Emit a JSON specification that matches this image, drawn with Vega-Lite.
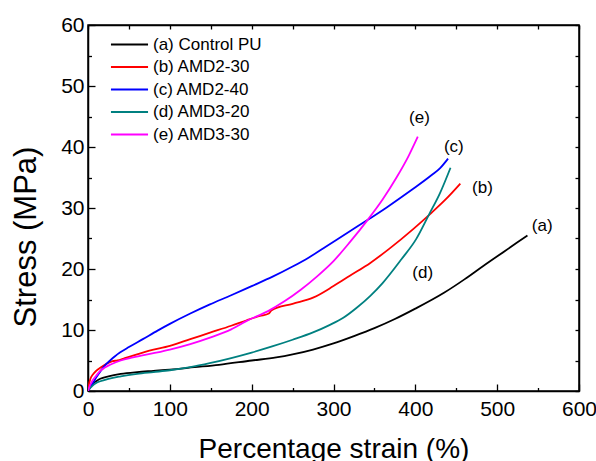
{
  "$schema": "https://vega.github.io/schema/vega-lite/v6.json",
  "width": 491,
  "height": 366,
  "autosize": {"type": "none"},
  "padding": {"left": 88, "top": 25, "right": 17, "bottom": 70},
  "config": {
    "font": "Liberation Sans",
    "view": {"stroke": "black", "strokeWidth": 1.5},
    "axis": {
      "labelFont": "Liberation Sans",
      "labelFontSize": 21,
      "labelColor": "black",
      "titleFont": "Liberation Sans",
      "titleFontWeight": "normal",
      "titleColor": "black",
      "domainColor": "black",
      "domainWidth": 1.5,
      "tickColor": "black",
      "tickWidth": 1.3,
      "grid": false
    },
    "text": {"font": "Liberation Sans"}
  },
  "datasets": {
    "curves": [
      {"sample": "(a) Control PU", "strain": 0, "stress": 0},
      {"sample": "(a) Control PU", "strain": 2, "stress": 0.6},
      {"sample": "(a) Control PU", "strain": 5, "stress": 1.1},
      {"sample": "(a) Control PU", "strain": 10, "stress": 1.6},
      {"sample": "(a) Control PU", "strain": 15, "stress": 2.0},
      {"sample": "(a) Control PU", "strain": 25, "stress": 2.4},
      {"sample": "(a) Control PU", "strain": 40, "stress": 2.8},
      {"sample": "(a) Control PU", "strain": 60, "stress": 3.1},
      {"sample": "(a) Control PU", "strain": 80, "stress": 3.3},
      {"sample": "(a) Control PU", "strain": 100, "stress": 3.5},
      {"sample": "(a) Control PU", "strain": 130, "stress": 3.9},
      {"sample": "(a) Control PU", "strain": 160, "stress": 4.3},
      {"sample": "(a) Control PU", "strain": 200, "stress": 5.0},
      {"sample": "(a) Control PU", "strain": 230, "stress": 5.5},
      {"sample": "(a) Control PU", "strain": 250, "stress": 6.0},
      {"sample": "(a) Control PU", "strain": 275, "stress": 6.8},
      {"sample": "(a) Control PU", "strain": 300, "stress": 7.8},
      {"sample": "(a) Control PU", "strain": 325, "stress": 9.0},
      {"sample": "(a) Control PU", "strain": 350, "stress": 10.3},
      {"sample": "(a) Control PU", "strain": 375, "stress": 11.8},
      {"sample": "(a) Control PU", "strain": 400, "stress": 13.5},
      {"sample": "(a) Control PU", "strain": 435, "stress": 16.1},
      {"sample": "(a) Control PU", "strain": 460, "stress": 18.3},
      {"sample": "(a) Control PU", "strain": 483, "stress": 20.5},
      {"sample": "(a) Control PU", "strain": 510, "stress": 23.0},
      {"sample": "(a) Control PU", "strain": 537, "stress": 25.5},

      {"sample": "(b) AMD2-30", "strain": 0, "stress": 0},
      {"sample": "(b) AMD2-30", "strain": 1, "stress": 1.0},
      {"sample": "(b) AMD2-30", "strain": 3, "stress": 2.0},
      {"sample": "(b) AMD2-30", "strain": 6, "stress": 2.7},
      {"sample": "(b) AMD2-30", "strain": 10, "stress": 3.3},
      {"sample": "(b) AMD2-30", "strain": 15, "stress": 3.8},
      {"sample": "(b) AMD2-30", "strain": 22, "stress": 4.4},
      {"sample": "(b) AMD2-30", "strain": 30, "stress": 4.9},
      {"sample": "(b) AMD2-30", "strain": 36, "stress": 5.0},
      {"sample": "(b) AMD2-30", "strain": 45, "stress": 5.4},
      {"sample": "(b) AMD2-30", "strain": 60, "stress": 6.0},
      {"sample": "(b) AMD2-30", "strain": 75, "stress": 6.6},
      {"sample": "(b) AMD2-30", "strain": 100, "stress": 7.4},
      {"sample": "(b) AMD2-30", "strain": 125, "stress": 8.5},
      {"sample": "(b) AMD2-30", "strain": 150, "stress": 9.6},
      {"sample": "(b) AMD2-30", "strain": 175, "stress": 10.7},
      {"sample": "(b) AMD2-30", "strain": 194, "stress": 11.6},
      {"sample": "(b) AMD2-30", "strain": 210, "stress": 12.3},
      {"sample": "(b) AMD2-30", "strain": 221, "stress": 12.7},
      {"sample": "(b) AMD2-30", "strain": 224, "stress": 13.2},
      {"sample": "(b) AMD2-30", "strain": 250, "stress": 14.3},
      {"sample": "(b) AMD2-30", "strain": 275, "stress": 15.3},
      {"sample": "(b) AMD2-30", "strain": 300, "stress": 17.2},
      {"sample": "(b) AMD2-30", "strain": 320, "stress": 18.9},
      {"sample": "(b) AMD2-30", "strain": 345, "stress": 21.0},
      {"sample": "(b) AMD2-30", "strain": 368, "stress": 23.3},
      {"sample": "(b) AMD2-30", "strain": 397, "stress": 26.5},
      {"sample": "(b) AMD2-30", "strain": 418, "stress": 29.0},
      {"sample": "(b) AMD2-30", "strain": 437, "stress": 31.4},
      {"sample": "(b) AMD2-30", "strain": 455, "stress": 34.0},

      {"sample": "(c) AMD2-40", "strain": 0, "stress": 0},
      {"sample": "(c) AMD2-40", "strain": 3, "stress": 0.6},
      {"sample": "(c) AMD2-40", "strain": 6, "stress": 1.3},
      {"sample": "(c) AMD2-40", "strain": 10, "stress": 2.2},
      {"sample": "(c) AMD2-40", "strain": 14, "stress": 3.0},
      {"sample": "(c) AMD2-40", "strain": 20, "stress": 4.1},
      {"sample": "(c) AMD2-40", "strain": 27, "stress": 5.0},
      {"sample": "(c) AMD2-40", "strain": 33, "stress": 5.7},
      {"sample": "(c) AMD2-40", "strain": 39, "stress": 6.3},
      {"sample": "(c) AMD2-40", "strain": 50, "stress": 7.2},
      {"sample": "(c) AMD2-40", "strain": 67, "stress": 8.5},
      {"sample": "(c) AMD2-40", "strain": 85, "stress": 9.9},
      {"sample": "(c) AMD2-40", "strain": 100, "stress": 11.0},
      {"sample": "(c) AMD2-40", "strain": 125, "stress": 12.7},
      {"sample": "(c) AMD2-40", "strain": 149, "stress": 14.2},
      {"sample": "(c) AMD2-40", "strain": 175, "stress": 15.7},
      {"sample": "(c) AMD2-40", "strain": 200, "stress": 17.2},
      {"sample": "(c) AMD2-40", "strain": 225, "stress": 18.7},
      {"sample": "(c) AMD2-40", "strain": 250, "stress": 20.4},
      {"sample": "(c) AMD2-40", "strain": 270, "stress": 21.9},
      {"sample": "(c) AMD2-40", "strain": 291, "stress": 23.7},
      {"sample": "(c) AMD2-40", "strain": 320, "stress": 26.2},
      {"sample": "(c) AMD2-40", "strain": 340, "stress": 27.9},
      {"sample": "(c) AMD2-40", "strain": 365, "stress": 30.1},
      {"sample": "(c) AMD2-40", "strain": 397, "stress": 33.1},
      {"sample": "(c) AMD2-40", "strain": 420, "stress": 35.4},
      {"sample": "(c) AMD2-40", "strain": 430, "stress": 36.5},
      {"sample": "(c) AMD2-40", "strain": 440, "stress": 38.1},

      {"sample": "(d) AMD3-20", "strain": 0, "stress": 0},
      {"sample": "(d) AMD3-20", "strain": 2, "stress": 0.4},
      {"sample": "(d) AMD3-20", "strain": 5, "stress": 0.8},
      {"sample": "(d) AMD3-20", "strain": 10, "stress": 1.3},
      {"sample": "(d) AMD3-20", "strain": 15, "stress": 1.6},
      {"sample": "(d) AMD3-20", "strain": 25, "stress": 2.0},
      {"sample": "(d) AMD3-20", "strain": 40, "stress": 2.4},
      {"sample": "(d) AMD3-20", "strain": 60, "stress": 2.8},
      {"sample": "(d) AMD3-20", "strain": 80, "stress": 3.1},
      {"sample": "(d) AMD3-20", "strain": 100, "stress": 3.4},
      {"sample": "(d) AMD3-20", "strain": 125, "stress": 3.9},
      {"sample": "(d) AMD3-20", "strain": 150, "stress": 4.6},
      {"sample": "(d) AMD3-20", "strain": 175, "stress": 5.4},
      {"sample": "(d) AMD3-20", "strain": 200, "stress": 6.3},
      {"sample": "(d) AMD3-20", "strain": 225, "stress": 7.3},
      {"sample": "(d) AMD3-20", "strain": 250, "stress": 8.4},
      {"sample": "(d) AMD3-20", "strain": 275, "stress": 9.6},
      {"sample": "(d) AMD3-20", "strain": 295, "stress": 10.8},
      {"sample": "(d) AMD3-20", "strain": 312, "stress": 12.0},
      {"sample": "(d) AMD3-20", "strain": 328, "stress": 13.6},
      {"sample": "(d) AMD3-20", "strain": 345, "stress": 15.6},
      {"sample": "(d) AMD3-20", "strain": 360, "stress": 17.7},
      {"sample": "(d) AMD3-20", "strain": 383, "stress": 21.6},
      {"sample": "(d) AMD3-20", "strain": 401, "stress": 24.9},
      {"sample": "(d) AMD3-20", "strain": 417, "stress": 29.0},
      {"sample": "(d) AMD3-20", "strain": 430, "stress": 32.4},
      {"sample": "(d) AMD3-20", "strain": 443, "stress": 36.6},

      {"sample": "(e) AMD3-30", "strain": 0, "stress": 0},
      {"sample": "(e) AMD3-30", "strain": 2, "stress": 0.8},
      {"sample": "(e) AMD3-30", "strain": 5, "stress": 1.6},
      {"sample": "(e) AMD3-30", "strain": 10, "stress": 2.5},
      {"sample": "(e) AMD3-30", "strain": 15, "stress": 3.3},
      {"sample": "(e) AMD3-30", "strain": 20, "stress": 3.8},
      {"sample": "(e) AMD3-30", "strain": 27, "stress": 4.3},
      {"sample": "(e) AMD3-30", "strain": 40, "stress": 5.0},
      {"sample": "(e) AMD3-30", "strain": 55, "stress": 5.5},
      {"sample": "(e) AMD3-30", "strain": 80, "stress": 6.2},
      {"sample": "(e) AMD3-30", "strain": 100, "stress": 6.8},
      {"sample": "(e) AMD3-30", "strain": 125, "stress": 7.7},
      {"sample": "(e) AMD3-30", "strain": 150, "stress": 8.8},
      {"sample": "(e) AMD3-30", "strain": 175, "stress": 10.1},
      {"sample": "(e) AMD3-30", "strain": 194, "stress": 11.5},
      {"sample": "(e) AMD3-30", "strain": 220, "stress": 13.1},
      {"sample": "(e) AMD3-30", "strain": 240, "stress": 14.7},
      {"sample": "(e) AMD3-30", "strain": 260, "stress": 16.6},
      {"sample": "(e) AMD3-30", "strain": 280, "stress": 18.8},
      {"sample": "(e) AMD3-30", "strain": 300, "stress": 21.3},
      {"sample": "(e) AMD3-30", "strain": 320, "stress": 24.4},
      {"sample": "(e) AMD3-30", "strain": 342, "stress": 28.1},
      {"sample": "(e) AMD3-30", "strain": 360, "stress": 31.4},
      {"sample": "(e) AMD3-30", "strain": 377, "stress": 35.0},
      {"sample": "(e) AMD3-30", "strain": 392, "stress": 38.6},
      {"sample": "(e) AMD3-30", "strain": 403, "stress": 41.7}
    ],
    "tags": [
      {"tag": "(a)", "strain": 555, "stress": 27.0},
      {"tag": "(b)", "strain": 482, "stress": 33.3},
      {"tag": "(c)", "strain": 447, "stress": 40.0},
      {"tag": "(d)", "strain": 409, "stress": 19.3},
      {"tag": "(e)", "strain": 405, "stress": 44.7}
    ]
  },
  "layer": [
    {
      "data": {"name": "curves"},
      "mark": {"type": "line", "strokeWidth": 1.8, "interpolate": "monotone", "clip": true},
      "encoding": {
        "x": {
          "field": "strain",
          "type": "quantitative",
          "scale": {"domain": [0, 600], "nice": false, "zero": false},
          "axis": {
            "orient": "bottom",
            "title": "Percentage strain (%)",
            "titleFontSize": 28,
            "titleBaseline": "alphabetic",
            "titleAnchor": "middle",
            "titleX": 245.5,
            "titleY": 66,
            "values": [0, 50, 100, 150, 200, 250, 300, 350, 400, 450, 500, 550, 600],
            "labelExpr": "datum.value % 100 === 0 ? datum.label : ''",
            "tickSize": {"condition": {"test": "datum.value % 100 === 0", "value": -7}, "value": -3.5},
            "labelPadding": 14,
            "labelFlush": false,
            "labelOverlap": false
          }
        },
        "y": {
          "field": "stress",
          "type": "quantitative",
          "scale": {"domain": [0, 60], "nice": false, "zero": false},
          "axis": {
            "orient": "left",
            "title": "Stress (MPa)",
            "titleFontSize": 31,
            "titleBaseline": "alphabetic",
            "titleAnchor": "middle",
            "titleAngle": -90,
            "titleX": -52.5,
            "titleY": 211.5,
            "values": [0, 5, 10, 15, 20, 25, 30, 35, 40, 45, 50, 55, 60],
            "labelExpr": "datum.value % 10 === 0 ? datum.label : ''",
            "tickSize": {"condition": {"test": "datum.value % 10 === 0", "value": -7}, "value": -3.5},
            "labelPadding": 11,
            "labelFlush": false,
            "labelOverlap": false
          }
        },
        "color": {
          "field": "sample",
          "type": "nominal",
          "scale": {
            "domain": ["(a) Control PU", "(b) AMD2-30", "(c) AMD2-40", "(d) AMD3-20", "(e) AMD3-30"],
            "range": ["#000000", "#ff0000", "#0000ff", "#008080", "#ff00ff"]
          },
          "legend": {
            "title": null,
            "orient": "none",
            "legendX": 33,
            "legendY": 11,
            "padding": 0,
            "symbolType": "M-2.5,0H2.5",
            "symbolSize": 220,
            "symbolStrokeWidth": 1.8,
            "labelFont": "Liberation Sans",
            "labelFontSize": 17,
            "labelColor": "black",
            "labelOffset": 15,
            "rowPadding": 4.5
          }
        }
      }
    },
    {
      "data": {"name": "tags"},
      "mark": {"type": "text", "fontSize": 17, "align": "center", "baseline": "middle", "color": "black"},
      "encoding": {
        "x": {
          "field": "strain",
          "type": "quantitative",
          "scale": {"domain": [0, 600], "nice": false, "zero": false},
          "axis": {
            "orient": "top",
            "title": null,
            "labels": false,
            "values": [0, 50, 100, 150, 200, 250, 300, 350, 400, 450, 500, 550, 600],
            "tickSize": -4
          }
        },
        "y": {
          "field": "stress",
          "type": "quantitative",
          "scale": {"domain": [0, 60], "nice": false, "zero": false},
          "axis": {
            "orient": "right",
            "title": null,
            "labels": false,
            "values": [0, 5, 10, 15, 20, 25, 30, 35, 40, 45, 50, 55, 60],
            "tickSize": -4
          }
        },
        "text": {"field": "tag", "type": "nominal"}
      }
    }
  ],
  "resolve": {"axis": {"x": "independent", "y": "independent"}}
}
